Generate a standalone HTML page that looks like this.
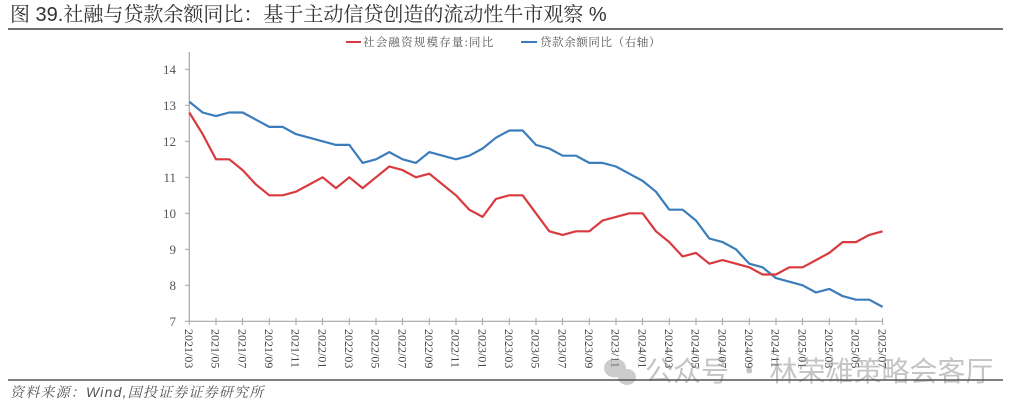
<!DOCTYPE html>
<html>
<head>
<meta charset="utf-8">
<style>
  html,body{margin:0;padding:0;background:#fff;}
  svg{display:block;}
</style>
</head>
<body>
<svg width="1024" height="412" viewBox="0 0 1024 412" xmlns="http://www.w3.org/2000/svg">
  <rect width="1024" height="412" fill="#fff"/>
  <!-- Title -->
  <text x="10" y="21" font-family="'Liberation Sans','Noto Serif CJK SC',serif" font-size="20" fill="#333">图 39.社融与贷款余额同比：基于主动信贷创造的流动性牛市观察 %</text>
  <line x1="8" y1="29" x2="1003" y2="29" stroke="#6e6e6e" stroke-width="2"/>

  <!-- Legend -->
  <line x1="346" y1="42" x2="361" y2="42" stroke="#d93a3e" stroke-width="2"/>
  <text x="363" y="46" font-family="'Liberation Serif','Noto Serif CJK SC',serif" font-size="11.5" letter-spacing="1.2" fill="#555">社会融资规模存量:同比</text>
  <line x1="521" y1="42" x2="537" y2="42" stroke="#3b7dbb" stroke-width="2"/>
  <text x="540" y="46" font-family="'Liberation Serif','Noto Serif CJK SC',serif" font-size="11.5" letter-spacing="0.6" fill="#555">贷款余额同比（右轴）</text>

  <!-- Axes -->
  <line x1="189.3" y1="52" x2="189.3" y2="321.3" stroke="#a6a6a6" stroke-width="1.2"/>
  <line x1="189.3" y1="321.3" x2="882.6" y2="321.3" stroke="#a6a6a6" stroke-width="1.2"/>
  <!-- Y ticks -->
  <g stroke="#a6a6a6" stroke-width="1">
    <line x1="185" y1="69.3" x2="189.3" y2="69.3"/>
    <line x1="185" y1="105.3" x2="189.3" y2="105.3"/>
    <line x1="185" y1="141.3" x2="189.3" y2="141.3"/>
    <line x1="185" y1="177.3" x2="189.3" y2="177.3"/>
    <line x1="185" y1="213.3" x2="189.3" y2="213.3"/>
    <line x1="185" y1="249.3" x2="189.3" y2="249.3"/>
    <line x1="185" y1="285.3" x2="189.3" y2="285.3"/>
    <line x1="185" y1="321.3" x2="189.3" y2="321.3"/>
  </g>
  <g font-family="'Liberation Serif',serif" font-size="13" fill="#555" text-anchor="end">
    <text x="176" y="73.8">14</text>
    <text x="176" y="109.8">13</text>
    <text x="176" y="145.8">12</text>
    <text x="176" y="181.8">11</text>
    <text x="176" y="217.8">10</text>
    <text x="176" y="253.8">9</text>
    <text x="176" y="289.8">8</text>
    <text x="176" y="325.8">7</text>
  </g>

  <!-- X ticks -->
  <g stroke="#a6a6a6" stroke-width="1">
    <line x1="189.3" y1="318" x2="189.3" y2="325"/>
    <line x1="216.0" y1="318" x2="216.0" y2="325"/>
    <line x1="242.6" y1="318" x2="242.6" y2="325"/>
    <line x1="269.3" y1="318" x2="269.3" y2="325"/>
    <line x1="296.0" y1="318" x2="296.0" y2="325"/>
    <line x1="322.6" y1="318" x2="322.6" y2="325"/>
    <line x1="349.3" y1="318" x2="349.3" y2="325"/>
    <line x1="376.0" y1="318" x2="376.0" y2="325"/>
    <line x1="402.6" y1="318" x2="402.6" y2="325"/>
    <line x1="429.3" y1="318" x2="429.3" y2="325"/>
    <line x1="456.0" y1="318" x2="456.0" y2="325"/>
    <line x1="482.6" y1="318" x2="482.6" y2="325"/>
    <line x1="509.3" y1="318" x2="509.3" y2="325"/>
    <line x1="536.0" y1="318" x2="536.0" y2="325"/>
    <line x1="562.6" y1="318" x2="562.6" y2="325"/>
    <line x1="589.3" y1="318" x2="589.3" y2="325"/>
    <line x1="616.0" y1="318" x2="616.0" y2="325"/>
    <line x1="642.6" y1="318" x2="642.6" y2="325"/>
    <line x1="669.3" y1="318" x2="669.3" y2="325"/>
    <line x1="696.0" y1="318" x2="696.0" y2="325"/>
    <line x1="722.6" y1="318" x2="722.6" y2="325"/>
    <line x1="749.3" y1="318" x2="749.3" y2="325"/>
    <line x1="776.0" y1="318" x2="776.0" y2="325"/>
    <line x1="802.6" y1="318" x2="802.6" y2="325"/>
    <line x1="829.3" y1="318" x2="829.3" y2="325"/>
    <line x1="856.0" y1="318" x2="856.0" y2="325"/>
    <line x1="882.6" y1="318" x2="882.6" y2="325"/>
  </g>
  <g font-family="'Liberation Serif',serif" font-size="12" fill="#444">
    <text transform="translate(185.0,329) rotate(90)">2021/03</text>
    <text transform="translate(211.7,329) rotate(90)">2021/05</text>
    <text transform="translate(238.3,329) rotate(90)">2021/07</text>
    <text transform="translate(265.0,329) rotate(90)">2021/09</text>
    <text transform="translate(291.7,329) rotate(90)">2021/11</text>
    <text transform="translate(318.3,329) rotate(90)">2022/01</text>
    <text transform="translate(345.0,329) rotate(90)">2022/03</text>
    <text transform="translate(371.7,329) rotate(90)">2022/05</text>
    <text transform="translate(398.3,329) rotate(90)">2022/07</text>
    <text transform="translate(425.0,329) rotate(90)">2022/09</text>
    <text transform="translate(451.7,329) rotate(90)">2022/11</text>
    <text transform="translate(478.3,329) rotate(90)">2023/01</text>
    <text transform="translate(505.0,329) rotate(90)">2023/03</text>
    <text transform="translate(531.7,329) rotate(90)">2023/05</text>
    <text transform="translate(558.3,329) rotate(90)">2023/07</text>
    <text transform="translate(585.0,329) rotate(90)">2023/09</text>
    <text transform="translate(611.7,329) rotate(90)">2023/11</text>
    <text transform="translate(638.3,329) rotate(90)">2024/01</text>
    <text transform="translate(665.0,329) rotate(90)">2024/03</text>
    <text transform="translate(691.7,329) rotate(90)">2024/05</text>
    <text transform="translate(718.3,329) rotate(90)">2024/07</text>
    <text transform="translate(745.0,329) rotate(90)">2024/09</text>
    <text transform="translate(771.7,329) rotate(90)">2024/11</text>
    <text transform="translate(798.3,329) rotate(90)">2025/01</text>
    <text transform="translate(825.0,329) rotate(90)">2025/03</text>
    <text transform="translate(851.7,329) rotate(90)">2025/05</text>
    <text transform="translate(878.3,329) rotate(90)">2025/07</text>
  </g>

  <!-- Series -->
  <g transform="translate(189.3,573.3) scale(13.333,-36)">
    <polyline fill="none" stroke="#3b7dbb" stroke-width="2.2" vector-effect="non-scaling-stroke" stroke-linejoin="round"
      points="0,13.1 1,12.8 2,12.7 3,12.8 4,12.8 5,12.6 6,12.4 7,12.4 8,12.2 9,12.1 10,12.0 11,11.9 12,11.9 13,11.4 14,11.5 15,11.7 16,11.5 17,11.4 18,11.7 19,11.6 20,11.5 21,11.6 22,11.8 23,12.1 24,12.3 25,12.3 26,11.9 27,11.8 28,11.6 29,11.6 30,11.4 31,11.4 32,11.3 33,11.1 34,10.9 35,10.6 36,10.1 37,10.1 38,9.8 39,9.3 40,9.2 41,9.0 42,8.6 43,8.5 44,8.2 45,8.1 46,8.0 47,7.8 48,7.9 49,7.7 50,7.6 51,7.6 52,7.4"/>
    <polyline fill="none" stroke="#d93a3e" stroke-width="2.2" vector-effect="non-scaling-stroke" stroke-linejoin="round"
      points="0,12.8 1,12.2 2,11.5 3,11.5 4,11.2 5,10.8 6,10.5 7,10.5 8,10.6 9,10.8 10,11.0 11,10.7 12,11.0 13,10.7 14,11.0 15,11.3 16,11.2 17,11.0 18,11.1 19,10.8 20,10.5 21,10.1 22,9.9 23,10.4 24,10.5 25,10.5 26,10.0 27,9.5 28,9.4 29,9.5 30,9.5 31,9.8 32,9.9 33,10.0 34,10.0 35,9.5 36,9.2 37,8.8 38,8.9 39,8.6 40,8.7 41,8.6 42,8.5 43,8.3 44,8.3 45,8.5 46,8.5 47,8.7 48,8.9 49,9.2 50,9.2 51,9.4 52,9.5"/>
  </g>

  <!-- Watermark -->
  <g opacity="0.5">
    <ellipse cx="615" cy="368" rx="11" ry="9.5" fill="#9a9a9a"/>
    <ellipse cx="627" cy="377" rx="9" ry="8" fill="#9a9a9a"/>
    <text x="645" y="381" font-family="'Noto Sans CJK SC',sans-serif" font-size="28" fill="#8a8a8a">公众号 · 林荣雄策略会客厅</text>
  </g>

  <!-- Bottom rule and source -->
  <line x1="8" y1="380" x2="1003" y2="380" stroke="#555" stroke-width="1.5"/>
  <text x="10" y="397" font-family="'Liberation Sans','Noto Serif CJK SC',serif" font-size="14" font-style="italic" letter-spacing="1.2" fill="#555">资料来源：Wind,国投证券证券研究所</text>
</svg>
</body>
</html>
